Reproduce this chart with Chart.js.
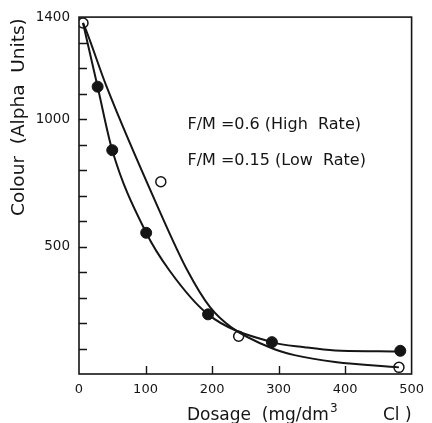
<!DOCTYPE html>
<html>
<head>
<meta charset="utf-8">
<script src="https://cdn.jsdelivr.net/npm/chart.js@4.4.0/dist/chart.umd.min.js"></script>
<style>
html,body{margin:0;padding:0;background:#fff;}
#wrap{width:432px;height:423px;position:relative;}
</style>
</head>
<body>
<div id="wrap"><canvas id="c" width="432" height="423"></canvas></div>
<script>
// Measured points (dosage mg/dm3 Cl, colour alpha units)
const doseFilled = [28, 50, 101, 194, 290, 483];
const colourFilled = [1127, 878, 554, 234, 125, 91];
const doseOpen = [6, 123, 240, 481];
const colourOpen = [1377, 754, 148, 26];
// Fitted curves
const curveFilledX = [6, 28, 50, 101, 136, 194, 290, 339, 385, 451, 483];
const curveFilledY = [1377, 1127, 878, 554, 406, 234, 125, 105, 92, 89, 88];
const curveOpenX = [6, 11, 41.5, 119, 163, 197, 229, 290, 324, 385, 481];
const curveOpenY = [1377, 1346, 1127, 652, 406, 262, 183, 101, 74, 47, 26];
// Axis ticks
const xTickValues = [0, 100, 200, 300, 400, 500];
const xMinorTicks = [100, 200, 300, 400];
const yTickLabels = [500, 1000, 1400];
const yMinorTicks = [100, 200, 300, 400, 500, 600, 700, 800, 900, 1000, 1100, 1200, 1300];
// Texts
const noteHigh = 'F/M =0.6 (High  Rate)';
const noteLow = 'F/M =0.15 (Low  Rate)';
const noteX = 163, noteHighY = 979, noteLowY = 835;
const yTitle = 'Colour  (Alpha  Units)';

const toXY = (xs, ys) => xs.map((v, i) => ({x: v, y: ys[i]}));
const INK = '#151515';
const FONT = '"DejaVu Sans", sans-serif';

const decor = {
  id: 'decor',
  afterDraw(chart) {
    const {ctx, chartArea: a, scales: {x, y}} = chart;
    ctx.save();
    ctx.strokeStyle = INK;
    ctx.lineWidth = 1.6;
    ctx.strokeRect(a.left, a.top, a.right - a.left, a.bottom - a.top);
    ctx.lineWidth = 1.4;
    ctx.beginPath();
    yMinorTicks.forEach(v => {
      const py = Math.round(y.getPixelForValue(v)) + 0.5;
      ctx.moveTo(a.left, py); ctx.lineTo(a.left + 8, py);
    });
    xMinorTicks.forEach(v => {
      const px = Math.round(x.getPixelForValue(v)) + 0.5;
      ctx.moveTo(px, a.bottom); ctx.lineTo(px, a.bottom - 8);
    });
    ctx.stroke();

    ctx.fillStyle = INK;
    ctx.font = '16px ' + FONT;
    ctx.textBaseline = 'middle';
    ctx.textAlign = 'left';
    ctx.fillText(noteHigh, x.getPixelForValue(noteX), y.getPixelForValue(noteHighY));
    ctx.fillText(noteLow, x.getPixelForValue(noteX), y.getPixelForValue(noteLowY));

    // y title
    ctx.save();
    ctx.translate(a.left - 60, a.top + 100);
    ctx.rotate(-Math.PI / 2);
    ctx.font = '18.5px ' + FONT;
    ctx.textAlign = 'center';
    ctx.textBaseline = 'middle';
    ctx.fillText(yTitle, 0, 0);
    ctx.restore();

    // x title
    ctx.font = '17px ' + FONT;
    ctx.textBaseline = 'alphabetic';
    ctx.textAlign = 'left';
    const base = a.bottom + 46;
    const left = a.left + 108;
    const part1 = 'Dosage  (mg/dm';
    ctx.fillText(part1, left, base);
    const w1 = ctx.measureText(part1).width;
    ctx.font = '12px ' + FONT;
    ctx.fillText('3', left + w1 + 1, base - 8);
    ctx.font = '17px ' + FONT;
    ctx.textAlign = 'right';
    ctx.fillText('Cl )', a.right, base);
    ctx.restore();
  }
};

new Chart(document.getElementById('c'), {
  type: 'scatter',
  data: {
    datasets: [
      {
        type: 'line', data: toXY(curveFilledX, curveFilledY),
        borderColor: INK, borderWidth: 2, pointRadius: 0,
        cubicInterpolationMode: 'monotone', fill: false
      },
      {
        type: 'line', data: toXY(curveOpenX, curveOpenY),
        borderColor: INK, borderWidth: 2, pointRadius: 0,
        cubicInterpolationMode: 'monotone', fill: false
      },
      {
        data: toXY(doseFilled, colourFilled),
        pointRadius: 5.5, pointBackgroundColor: INK, pointBorderColor: INK, pointBorderWidth: 1
      },
      {
        data: toXY(doseOpen, colourOpen),
        pointRadius: 5, pointBackgroundColor: '#fff', pointBorderColor: INK, pointBorderWidth: 1.5
      }
    ]
  },
  options: {
    responsive: false,
    animation: false,
    devicePixelRatio: 1,
    layout: {padding: {top: 15, right: 12, left: 0, bottom: 0}},
    plugins: {legend: {display: false}, tooltip: {enabled: false}},
    scales: {
      x: {
        type: 'linear', min: 0, max: 500,
        afterBuildTicks: s => { s.ticks = xTickValues.map(v => ({value: v})); },
        afterFit: s => { s.height = 49; },
        grid: {display: false, drawTicks: false},
        border: {display: false},
        ticks: {color: INK, font: {family: FONT, size: 13}, padding: 8, maxRotation: 0, autoSkip: false,
                callback: v => String(v)}
      },
      y: {
        type: 'linear', min: 0, max: 1400,
        afterBuildTicks: s => { s.ticks = yTickLabels.map(v => ({value: v})); },
        afterFit: s => { s.width = 79; },
        grid: {display: false, drawTicks: false},
        border: {display: false},
        ticks: {color: INK, font: {family: FONT, size: 13.5}, padding: 9, autoSkip: false,
                callback: v => String(v)}
      }
    }
  },
  plugins: [decor]
});
</script>
</body>
</html>
